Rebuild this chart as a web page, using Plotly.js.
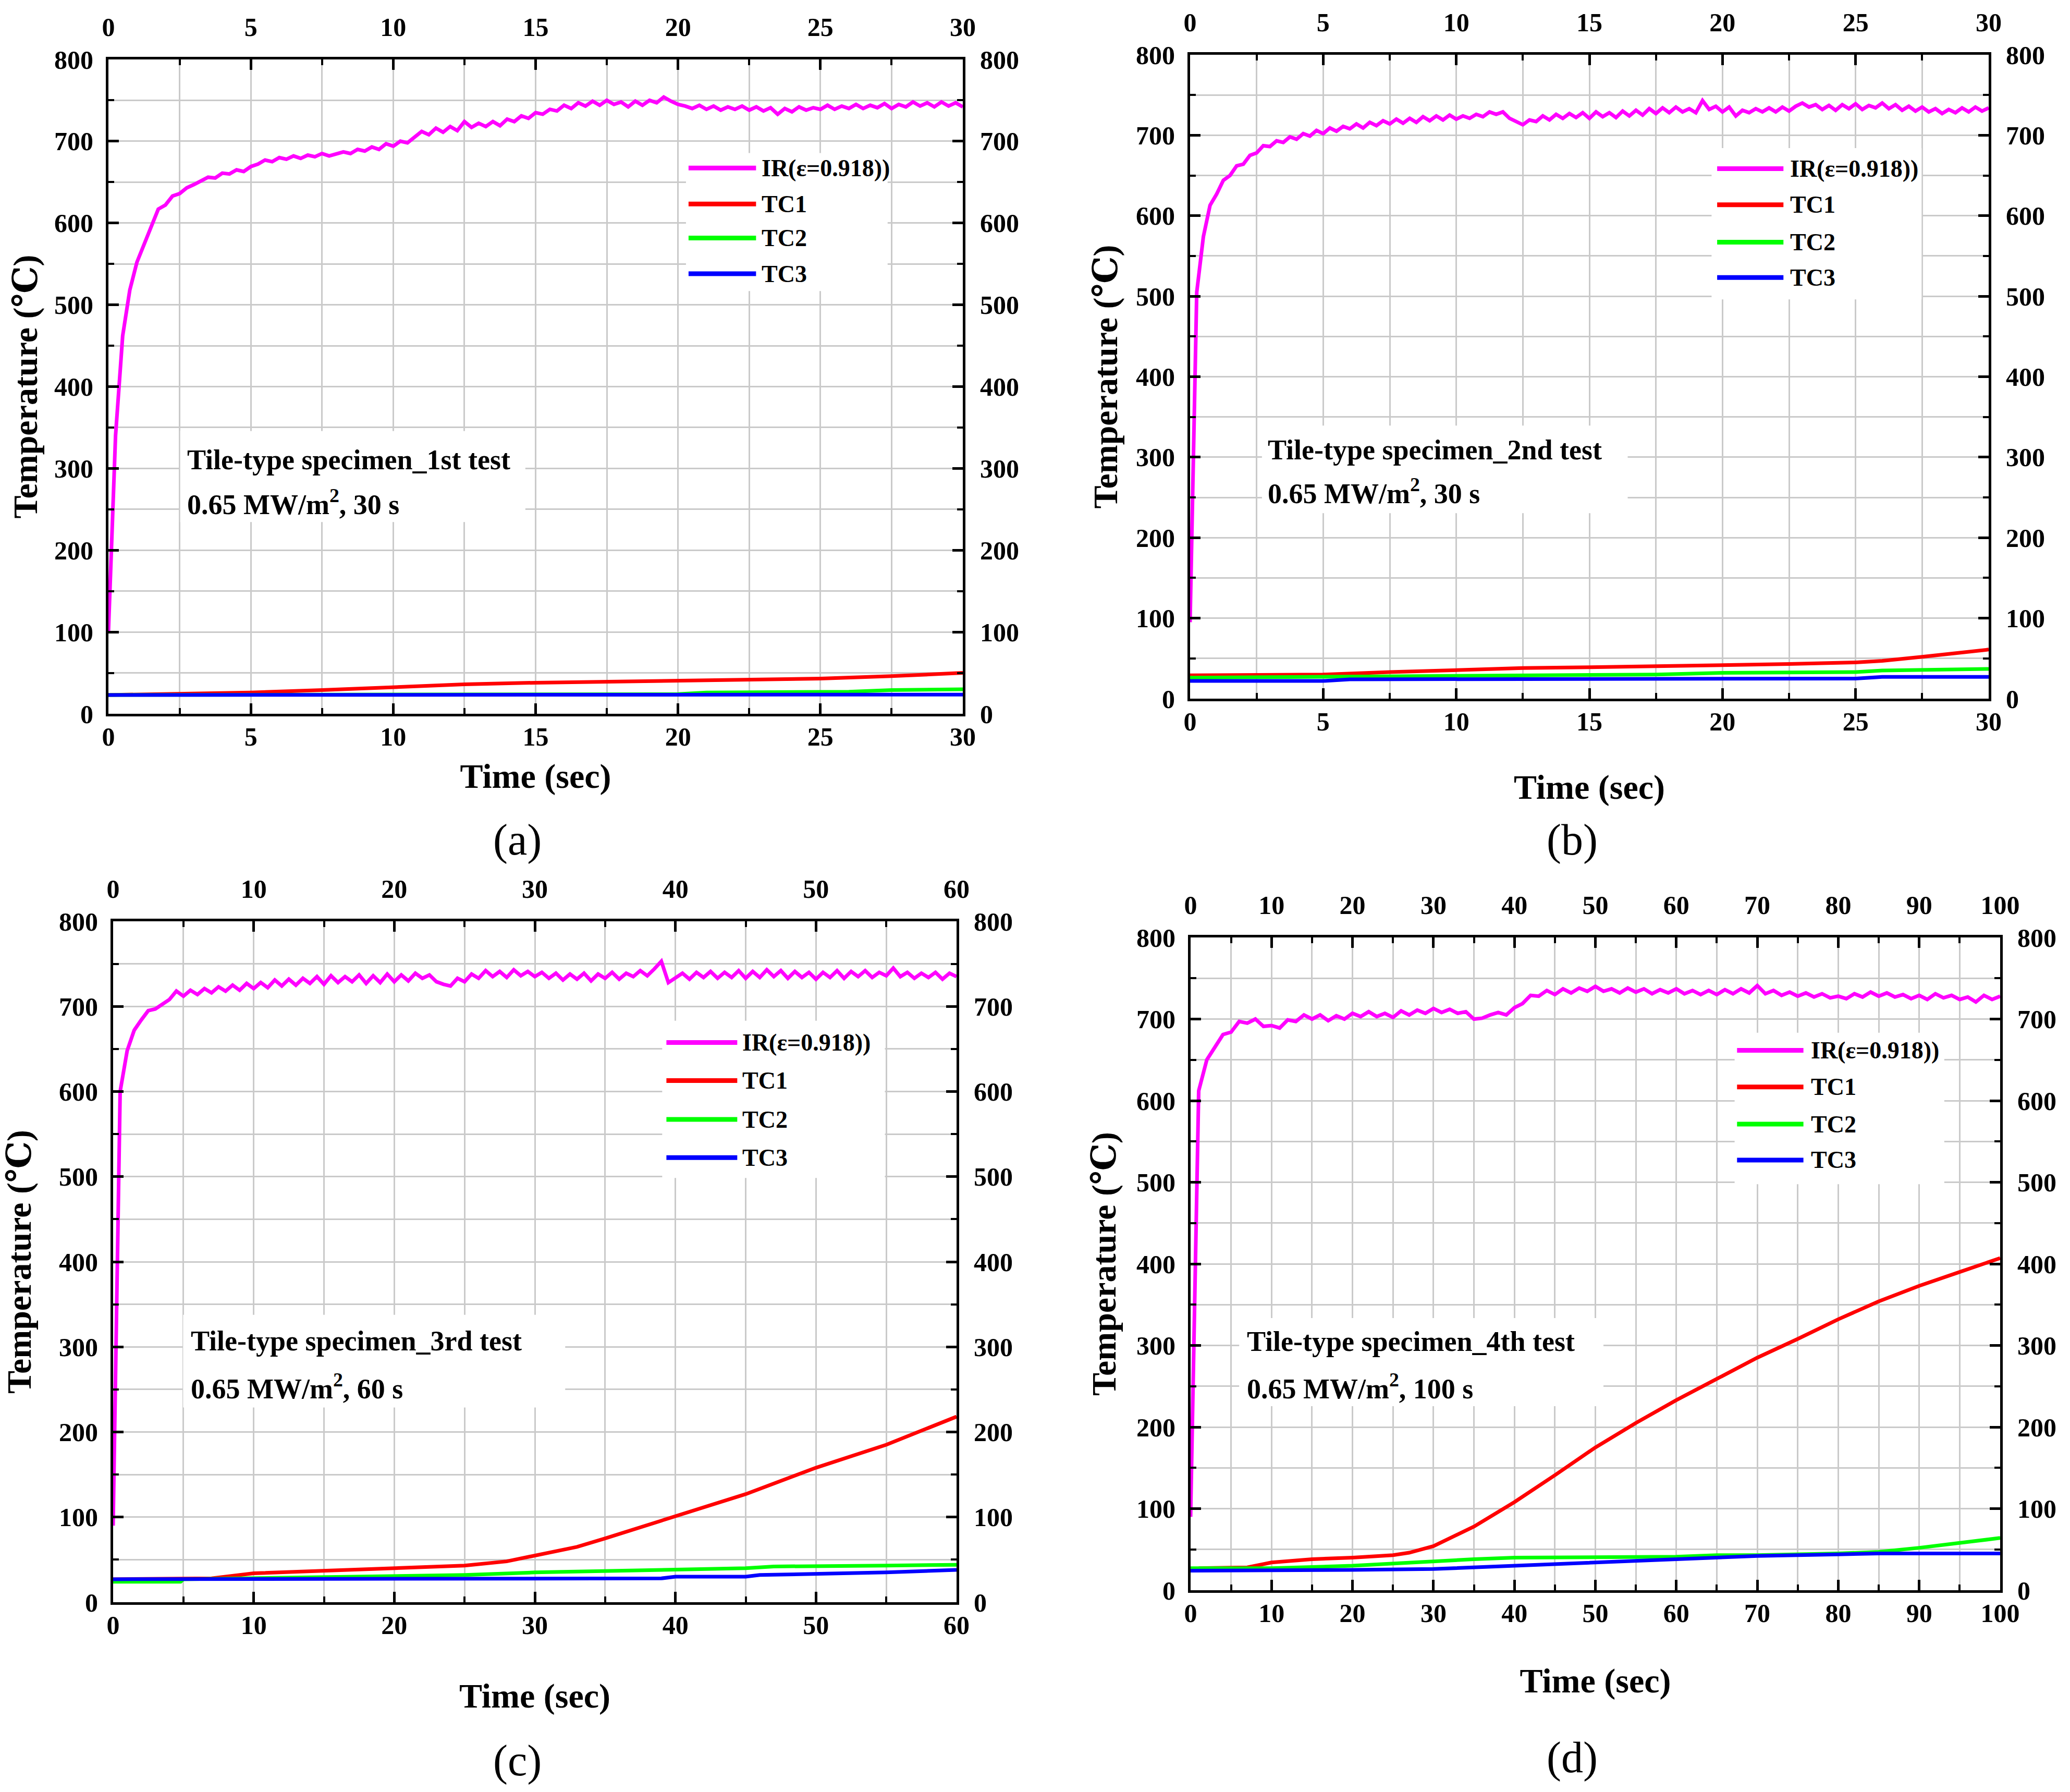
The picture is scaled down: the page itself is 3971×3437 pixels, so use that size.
<!DOCTYPE html>
<html>
<head>
<meta charset="utf-8">
<script src="https://cdn.plot.ly/plotly-3.0.1.min.js"></script>
<style>
  html, body { margin: 0; padding: 0; background: #ffffff; }
  #grafico { width: 3971px; height: 3437px; }
</style>
</head>
<body>
<div id="grafico"></div>
<script>
// (a) tile-type specimen, 1st test, 30 s -- IR sampled every 0.25 s
const irStepA = 0.25;
const irTempA = [
  100, 340, 462, 518, 552, 574, 597, 617, 622, 633, 636, 643, 647, 651, 656, 655,
  661, 660, 665, 663, 669, 672, 677, 675, 680, 678, 682, 679, 683, 681, 685, 682,
  684, 687, 685, 690, 688, 693, 690, 697, 694, 700, 698, 705, 712, 708, 716, 711,
  718, 713, 724, 717, 722, 718, 724, 719, 727, 724, 731, 728, 735, 733, 739, 737,
  744, 740, 747, 743, 749, 744, 750, 745, 748, 742, 749, 744, 750, 747, 754, 749,
  745, 743, 740, 744, 739, 743, 738, 742, 739, 743, 738, 742, 737, 741, 733, 740,
  736, 742, 738, 741, 739, 744, 739, 743, 740, 745, 740, 744, 741, 746, 740, 745,
  742, 748, 743, 747, 742, 748, 743, 747, 742
];
const tc1TimeA = [0, 5, 7.5, 10, 12.5, 15, 17.5, 20, 22.5, 25, 27.5, 30];
const tc1TempA = [23, 26, 29, 33, 36, 38, 39.5, 40, 42, 43, 46, 50];
const tc2TimeA = [0, 10, 20, 21, 25, 26, 27.5, 30];
const tc2TempA = [23, 23, 24, 26, 26, 27, 29, 30];
const tc3TimeA = [0, 10, 20, 30];
const tc3TempA = [23, 23, 23.5, 23.5];

// (b) 2nd test, 30 s
const irStepB = 0.25;
const irTempB = [
  95, 505, 574, 613, 627, 644, 650, 662, 664, 675, 678, 687, 686, 693, 691, 698,
  695, 702, 699, 706, 702, 709, 705, 711, 708, 714, 709, 716, 712, 718, 714, 720,
  715, 721, 716, 723, 718, 724, 719, 725, 720, 724, 721, 726, 723, 729, 726, 729,
  721, 717, 713, 719, 717, 724, 719, 726, 721, 727, 722, 728, 721, 729, 723, 728,
  722, 730, 724, 731, 725, 733, 727, 734, 728, 735, 729, 733, 728, 743, 732, 736,
  729, 735, 724, 731, 728, 733, 729, 734, 729, 735, 730, 736, 740, 735, 738, 732,
  737, 731, 738, 733, 739, 732, 737, 734, 740, 733, 738, 731, 736, 730, 735, 729,
  733, 727, 732, 728, 734, 729, 735, 730, 734
];
const tc1TimeB = [0, 5, 7.5, 10, 12.5, 15, 17.5, 20, 22.5, 25, 26, 27.5, 30];
const tc1TempB = [29, 30, 33, 36, 38, 39, 40, 41, 43, 45, 47, 52, 61];
const tc2TimeB = [0, 5, 10, 15, 17.5, 20, 25, 26, 30];
const tc2TempB = [26, 27, 28, 29, 30, 32, 33, 35, 37];
const tc3TimeB = [0, 5, 6, 15, 25, 26, 30];
const tc3TempB = [22, 22, 24, 25, 25, 27, 27];

// (c) 3rd test, 60 s -- IR every 0.5 s
const irStepC = 0.5;
const irTempC = [
  90, 600, 648, 672, 684, 695, 697, 703, 708, 718, 712, 719, 714, 721, 716, 723,
  718, 725, 719, 727, 721, 728, 722, 731, 724, 732, 725, 733, 727, 735, 726, 736,
  728, 735, 729, 737, 727, 736, 728, 738, 729, 737, 730, 739, 733, 737, 729, 726,
  724, 733, 729, 738, 733, 742, 735, 741, 734, 743, 736, 741, 735, 740, 733, 739,
  731, 738, 732, 739, 730, 738, 733, 740, 732, 739, 735, 742, 736, 744, 753, 728,
  733, 739, 732, 740, 734, 741, 733, 740, 734, 742, 733, 741, 734, 743, 735, 742,
  733, 741, 734, 740, 732, 740, 734, 742, 733, 741, 735, 742, 734, 740, 736, 745,
  735, 740, 733, 739, 734, 740, 732, 739, 735
];
const tc1TimeC = [0, 5, 7, 10, 15, 20, 25, 28, 30, 33, 35, 40, 45, 50, 55, 60];
const tc1TempC = [27, 27, 28, 34, 37, 40, 43, 48, 55, 65, 75, 101, 127, 158, 185, 218];
const tc2TimeC = [0, 4.8, 5, 20, 25, 30, 35, 40, 45, 47, 50, 55, 60];
const tc2TempC = [24, 24, 27, 30, 32, 35, 37, 39, 40, 42, 42, 43, 44];
const tc3TimeC = [0, 20, 39, 40, 45, 46, 50, 55, 60];
const tc3TempC = [27, 28, 28, 30, 30, 32, 33, 35, 38];

// (d) 4th test, 100 s -- IR every 1 s
const irStepD = 1;
const irTempD = [
  90, 612, 650, 666, 681, 684, 697, 695, 700, 691, 692, 689, 699, 697, 705, 700,
  705, 698, 704, 700, 707, 703, 709, 703, 707, 702, 710, 705, 711, 707, 713, 708,
  712, 707, 709, 700, 701, 705, 708, 705, 714, 719, 729, 728, 735, 730, 737, 732,
  738, 734, 740, 734, 737, 732, 738, 733, 737, 731, 736, 732, 737, 731, 735, 730,
  735, 730, 736, 731, 737, 732, 741, 731, 735, 729, 733, 728, 732, 727, 731, 726,
  728, 725, 731, 727, 733, 728, 732, 727, 730, 725, 729, 724, 731, 726, 729, 724,
  727, 721, 729, 724, 728
];
const tc1TimeD = [1, 5, 7, 10, 15, 20, 25, 27, 30, 35, 40, 45, 50, 55, 60, 65, 70, 75, 80, 85, 90, 95, 100];
const tc1TempD = [27, 27, 28, 34, 38, 40, 43, 46, 54, 78, 108, 141, 175, 205, 233, 259, 285, 308, 332, 354, 373, 390, 407];
const tc2TimeD = [0, 10, 20, 25, 30, 35, 40, 50, 60, 65, 70, 80, 85, 90, 95, 100];
const tc2TempD = [27, 27, 30, 33, 36, 38, 40, 41, 41, 43, 43, 45, 47, 52, 58, 64];
const tc3TimeD = [0, 10, 20, 30, 40, 50, 60, 70, 80, 85, 100];
const tc3TempD = [24, 24, 25, 26, 30, 35, 39, 42, 44, 45, 45];

const seriesNames = ['IR(\u03b5=0.918))', 'TC1', 'TC2', 'TC3'];
const seriesColors = ['#ff00ff', '#ff0000', '#00ff00', '#0000ff'];
const specimenLabels = ['Tile-type specimen_1st test', 'Tile-type specimen_2nd test',
                        'Tile-type specimen_3rd test', 'Tile-type specimen_4th test'];
const durationLabels = ['30 s', '30 s', '60 s', '100 s'];
const panelLetters = ['(a)', '(b)', '(c)', '(d)'];

const FUENTE = 'Liberation Serif, DejaVu Serif, serif';
const W = 3971, H = 3437;

// plot frame of each panel in page pixels, plus where its boxes sit (fractions of the frame)
const paneles = [
  { left: 208, right: 1847, top: 114, bottom: 1369, xmax: 30, dtick: 5, minor: 2.5,
    ir: [irStepA, irTempA], tc: [[tc1TimeA, tc1TempA], [tc2TimeA, tc2TempA], [tc3TimeA, tc3TempA]],
    legX: [0.679, 0.758, 0.763], legY: [0.834, 0.779, 0.727, 0.6725], legBox: [0.676, 0.912, 0.646, 0.857],
    noteX: 0.091, noteY: [0.388, 0.3235], noteBox: [0.084, 0.488, 0.293, 0.432],
    letter: [993, 1611], xStandoff: 26, yStandoff: 12 },
  { left: 2283, right: 3815, top: 105, bottom: 1340, xmax: 30, dtick: 5, minor: 2.5,
    ir: [irStepB, irTempB], tc: [[tc1TimeB, tc1TempB], [tc2TimeB, tc2TempB], [tc3TimeB, tc3TempB]],
    legX: [0.660, 0.743, 0.750], legY: [0.823, 0.767, 0.709, 0.654], legBox: [0.653, 0.916, 0.620, 0.855],
    noteX: 0.096, noteY: [0.386, 0.322], noteBox: [0.090, 0.548, 0.288, 0.424],
    letter: [3016, 1611], xStandoff: 76, yStandoff: 15 },
  { left: 217, right: 1835, top: 1767, bottom: 3073, xmax: 60, dtick: 10, minor: 5,
    ir: [irStepC, irTempC], tc: [[tc1TimeC, tc1TempC], [tc2TimeC, tc2TempC], [tc3TimeC, tc3TempC]],
    legX: [0.656, 0.740, 0.745], legY: [0.822, 0.766, 0.709, 0.653], legBox: [0.651, 0.915, 0.623, 0.854],
    noteX: 0.091, noteY: [0.384, 0.317], noteBox: [0.083, 0.536, 0.286, 0.422],
    letter: [993, 3377], xStandoff: 86, yStandoff: 40 },
  { left: 2284, right: 3837, top: 1798, bottom: 3050, xmax: 100, dtick: 10, minor: 5,
    ir: [irStepD, irTempD], tc: [[tc1TimeD, tc1TempD], [tc2TimeD, tc2TempD], [tc3TimeD, tc3TempD]],
    legX: [0.675, 0.757, 0.765], legY: [0.827, 0.771, 0.714, 0.659], legBox: [0.672, 0.931, 0.622, 0.854],
    noteX: 0.068, noteY: [0.381, 0.312], noteBox: [0.060, 0.510, 0.282, 0.417],
    letter: [3016, 3371], xStandoff: 80, yStandoff: 19 }
];

const gris = '#cacaca';
const fuenteTicks = { family: FUENTE, size: 50, color: '#000000', weight: 'bold' };

function ejeX(p, extra) {
  return Object.assign({
    range: [0, p.xmax], tick0: 0, dtick: p.dtick, ticks: 'inside', ticklen: 20, tickwidth: 5,
    tickcolor: '#000000', showline: true, linewidth: 5, linecolor: '#000000', zeroline: false,
    tickfont: fuenteTicks, fixedrange: true
  }, extra);
}

function ejeY(extra) {
  return Object.assign({
    range: [0, 800], tick0: 0, dtick: 100, ticks: 'inside', ticklen: 20, tickwidth: 5,
    tickcolor: '#000000', showline: true, linewidth: 5, linecolor: '#000000', zeroline: false,
    tickfont: fuenteTicks, fixedrange: true
  }, extra);
}

const traces = [];
const layout = {
  width: W, height: H,
  margin: { l: 0, r: 0, t: 0, b: 0 },
  paper_bgcolor: '#ffffff', plot_bgcolor: '#ffffff',
  showlegend: false,
  shapes: [], annotations: []
};

paneles.forEach((p, i) => {
  const n = i + 1, m = i + 5;
  const xs = n === 1 ? '' : String(n);
  const xId = 'x' + xs, yId = 'y' + xs;
  const xTop = 'x' + m, yRight = 'y' + m;
  const dx = [p.left / W, p.right / W];
  const dy = [1 - p.bottom / H, 1 - p.top / H];
  const minorGrid = { dtick: p.minor, ticks: 'inside', ticklen: 11, tickwidth: 4, tickcolor: '#000000',
                      showgrid: true, gridcolor: gris, gridwidth: 3 };

  layout['xaxis' + xs] = ejeX(p, {
    domain: dx, anchor: yId, side: 'bottom', showgrid: true, gridcolor: gris, gridwidth: 3,
    minor: minorGrid, ticklabelstandoff: -4,
    title: { text: 'Time (sec)', standoff: p.xStandoff,
             font: { family: FUENTE, size: 66, color: '#000000', weight: 'bold' } }
  });
  layout['xaxis' + m] = ejeX(p, {
    overlaying: xId, anchor: yId, side: 'top', showgrid: false, ticklabelstandoff: 20,
    minor: { dtick: p.minor, ticks: 'inside', ticklen: 11, tickwidth: 4, tickcolor: '#000000', showgrid: false }
  });
  layout['yaxis' + xs] = ejeY({
    domain: dy, anchor: xId, side: 'left', showgrid: true, gridcolor: gris, gridwidth: 3,
    minor: Object.assign({}, minorGrid, { dtick: 50 }), ticklabelstandoff: 14,
    title: { text: 'Temperature (\u2103)', standoff: p.yStandoff,
             font: { family: FUENTE, size: 66, color: '#000000', weight: 'bold' } }
  });
  layout['yaxis' + m] = ejeY({
    overlaying: yId, anchor: xId, side: 'right', showgrid: false, ticklabelstandoff: 18,
    minor: { dtick: 50, ticks: 'inside', ticklen: 11, tickwidth: 4, tickcolor: '#000000', showgrid: false }
  });

  // IR, TC1, TC2 on the main axes; TC3 on the top/right pair so those axes get drawn
  traces.push({
    type: 'scatter', mode: 'lines', name: seriesNames[0], x0: 0, dx: p.ir[0], y: p.ir[1],
    xaxis: xId, yaxis: yId, line: { color: seriesColors[0], width: 7 }, hoverinfo: 'skip'
  });
  p.tc.forEach((s, k) => {
    const onTop = k === 2;
    traces.push({
      type: 'scatter', mode: 'lines', name: seriesNames[k + 1], x: s[0], y: s[1],
      xaxis: onTop ? xTop : xId, yaxis: onTop ? yRight : yId,
      line: { color: seriesColors[k + 1], width: 7 }, hoverinfo: 'skip'
    });
  });

  // fractions of the frame -> axis units
  const ax = f => f * p.xmax;
  const ay = f => f * 800;

  // white patches behind the legend and the test note
  [p.legBox, p.noteBox].forEach(b => {
    layout.shapes.push({
      type: 'rect', xref: xId, yref: yId, x0: ax(b[0]), x1: ax(b[1]), y0: ay(b[2]), y1: ay(b[3]),
      fillcolor: '#ffffff', line: { width: 0 }, layer: 'between'
    });
  });

  // legend drawn by hand so the line samples are as long as the original
  seriesNames.forEach((nombre, k) => {
    layout.shapes.push({
      type: 'line', xref: xId, yref: yId, x0: ax(p.legX[0]), x1: ax(p.legX[1]),
      y0: ay(p.legY[k]), y1: ay(p.legY[k]),
      line: { color: seriesColors[k], width: 9 }, layer: 'above'
    });
    layout.annotations.push({
      xref: xId, yref: yId, x: ax(p.legX[2]), y: ay(p.legY[k]), xanchor: 'left', yanchor: 'middle',
      text: nombre, showarrow: false,
      font: { family: FUENTE, size: 46, color: '#000000', weight: 'bold' }
    });
  });

  layout.annotations.push({
    xref: xId, yref: yId, x: ax(p.noteX), y: ay(p.noteY[0]), xanchor: 'left', yanchor: 'middle',
    text: specimenLabels[i], showarrow: false,
    font: { family: FUENTE, size: 54, color: '#000000', weight: 'bold' }
  });
  layout.annotations.push({
    xref: xId, yref: yId, x: ax(p.noteX), y: ay(p.noteY[1]), xanchor: 'left', yanchor: 'middle',
    text: '0.65 MW/m<sup>2</sup>, ' + durationLabels[i], showarrow: false,
    font: { family: FUENTE, size: 54, color: '#000000', weight: 'bold' }
  });

  layout.annotations.push({
    xref: 'paper', yref: 'paper', x: p.letter[0] / W, y: 1 - p.letter[1] / H,
    xanchor: 'center', yanchor: 'middle', text: panelLetters[i], showarrow: false,
    font: { family: FUENTE, size: 84, color: '#000000' }
  });
});

Plotly.newPlot('grafico', traces, layout, { displayModeBar: false, responsive: false });
</script>
</body>
</html>
